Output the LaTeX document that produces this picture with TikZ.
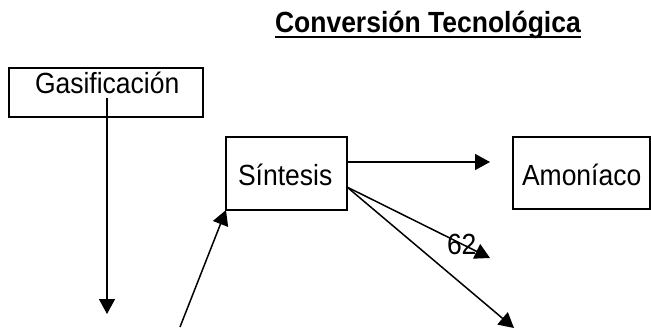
\documentclass[tikz,border=0pt]{standalone}
\usepackage{fontspec}
\setmainfont{Liberation Sans}
\usetikzlibrary{arrows.meta}
% labels are set slightly taller than the plain font
\newcommand{\tallx}[1]{\scalebox{1}[1.1]{#1}}
\begin{document}
\begin{tikzpicture}[x=1pt,y=-1pt,
  every node/.style={inner sep=0pt,outer sep=0pt},
  txt/.style={anchor=base west,font=\fontsize{26.5}{30}\selectfont},
  box/.style={draw,line width=1.5pt,rectangle},
  arr/.style={line width=1.5pt,-{Triangle[length=15pt,width=16pt]}}]
  \useasboundingbox (0,0) rectangle (651,327);

  % title
  \node[txt,font=\fontsize{26.5}{30}\selectfont\bfseries] (title) at (275,32) {\tallx{Conversión Tecnológica}};
  \draw[line width=2.5pt] ([yshift=-5pt]title.base west) -- ([yshift=-5pt]title.base east);

  % boxes
  \node[box,minimum width=194pt,minimum height=49pt] (gas) at (106,92.5) {};
  \node[txt] (gasT) at (35,93) {\tallx{Gasificación}};
  \node[box,minimum width=121pt,minimum height=73pt] (sin) at (286.5,173.5) {};
  \node[txt] (sinT) at (238,185) {\tallx{Síntesis}};
  \node[box,minimum width=137pt,minimum height=72pt] (amo) at (581.5,173) {};
  \node[txt] (amoT) at (522,185) {\tallx{Amoníaco}};
  \node[txt] (n62) at (447,254) {\tallx{62}};

  % free ends
  \coordinate (gasStart) at (107,98);
  \coordinate (gasEnd) at (107,314);
  \coordinate (inStart) at (180,327);
  \coordinate (outA) at (490,162);
  \coordinate (outB) at (490,258);
  \coordinate (outC) at (514,328);

  % connectors
  \draw[arr] (gasStart) -- (gasEnd);
  \draw[arr] (inStart) -- (sin.south west);
  \draw[arr] ([yshift=11.5pt]sin.east) -- (outA);
  \draw[arr] ([yshift=-13.5pt]sin.east) -- (outB);
  \draw[arr] ([yshift=-13.5pt]sin.east) -- (outC);
\end{tikzpicture}
\end{document}
